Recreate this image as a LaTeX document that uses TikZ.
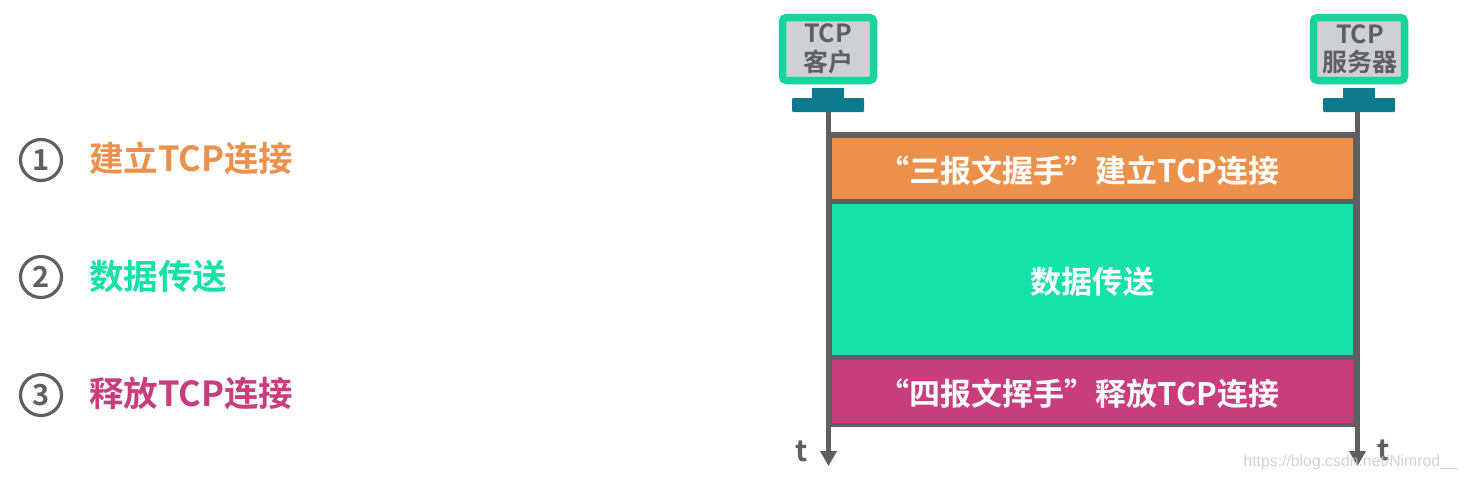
\documentclass[tikz,border=0pt]{standalone}
\usepackage{fontspec}
\setmainfont{Noto Sans CJK SC}[BoldFont={* Bold}]
\newfontfamily\wmfont{Liberation Sans}
\usetikzlibrary{arrows.meta}
\definecolor{cgray}{HTML}{5F5F62}
\definecolor{corange}{HTML}{EC914B}
\definecolor{cgreen}{HTML}{16E1A8}
\definecolor{cpink}{HTML}{C83E7C}
\definecolor{cteal}{HTML}{0E7A8C}
\definecolor{cframe}{HTML}{18D39B}
\definecolor{cscreen}{HTML}{CFD0D3}
\newcommand{\bartext}[1]{\raisebox{-2.5pt}[\height][\depth]{#1}}
\tikzset{
  x=1pt,y=-1pt,
  bar/.style={inner sep=0pt,outer sep=0pt,minimum width=521pt,text=white,font=\bfseries\fontsize{31}{31}\selectfont},
  monitor/.style={draw=cframe,line width=7.5pt,fill=cscreen,rounded corners=4pt,minimum width=91pt,minimum height=63pt,inner sep=0pt,outer sep=0pt,text=cgray,align=center,font=\bfseries\fontsize{25}{28.5}\selectfont},
  stand/.style={fill=cteal,inner sep=0pt,outer sep=0pt,minimum width=32pt,minimum height=11pt},
  base/.style={fill=cteal,rounded corners=1pt,inner sep=0pt,outer sep=0pt,minimum width=72pt,minimum height=14pt},
  frame/.style={fill=cgray,inner sep=0pt,outer sep=0pt,minimum width=534pt,minimum height=295pt},
  timeline/.style={draw=cgray,line width=5pt,-{Triangle[length=15pt,width=16pt]}},
  num/.style={circle,draw=cgray,line width=3.2pt,minimum size=41pt,inner sep=0pt,text=cgray,font=\bfseries\fontsize{29}{29}\selectfont},
  item/.style={anchor=west,inner sep=0pt,font=\bfseries\fontsize{34.5}{35}\selectfont},
  tlabel/.style={text=cgray,inner sep=0pt,font=\bfseries\fontsize{29}{29}\selectfont}
}
\begin{document}
\begin{tikzpicture}
\useasboundingbox (0,0) rectangle (1467,480);
% left list
\node[num] (n1) at (41,160) {1};
\node[num] (n2) at (41,277) {2};
\node[num] (n3) at (41,395) {3};
\node[item,text=corange] (i1) at (89,158.5) {建立TCP连接};
\node[item,text=cgreen] (i2) at (89,276.5) {数据传送};
\node[item,text=cpink] (i3) at (89,393.5) {释放TCP连接};
% monitors
\node[monitor] (mc) at (828,49) {TCP\\客户};
\node[monitor] (ms) at (1359,49) {\hspace*{2pt}TCP\\\hspace*{2pt}服务器};
\node[stand] (sc) at (828,93) {};
\node[stand] (ss) at (1359,93) {};
\node[base] (bc) at (828,105) {};
\node[base] (bs) at (1359,105) {};
% time lines
\coordinate (ec) at (828.5,466);
\coordinate (es) at (1357.5,466);
\coordinate (bcx) at (828.5,112);
\coordinate (bsx) at (1357.5,112);
\draw[timeline] (bcx) -- (ec);
\draw[timeline] (bsx) -- (es);
% bars
\node[frame] (fr) at (1093,279.5) {};
\node[bar,fill=corange,minimum height=61pt] (b1) at (1092.5,168.5) {\bartext{“三报文握手”建立TCP连接}\hspace*{27pt}};
\node[bar,fill=cgreen,minimum height=151pt] (b2) at (1092.5,279.5) {\bartext{数据传送}};
\node[bar,fill=cpink,minimum height=63pt] (b3) at (1092.5,391.5) {\bartext{“四报文挥手”释放TCP连接}\hspace*{27pt}};
\node[tlabel] (t1) at (802,451) {t};
\node[tlabel] (t2) at (1384,450) {t};
\node[inner sep=0pt,anchor=east,text=black!22,font=\wmfont\fontsize{15.8}{16}\selectfont,opacity=.8] (wm) at (1458,462) {https://blog.csdn.net/Nimrod\_\_};
\end{tikzpicture}
\end{document}
